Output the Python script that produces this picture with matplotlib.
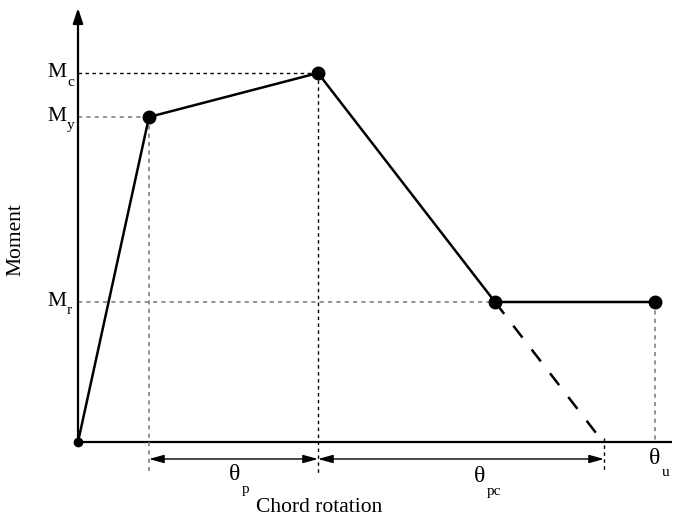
import matplotlib
matplotlib.use("Agg")
import matplotlib.pyplot as plt

plt.rcParams['font.family'] = ['Liberation Serif', 'DejaVu Serif']

# backbone points (chord rotation, moment), arbitrary units
theta = [0, 71, 240, 417, 577]
moment = [0, 325, 369, 140, 140]
theta_end = 525          # where the post-capping branch reaches zero
m_labels = ["c", "y", "r"]
m_values = [369, 325, 140]
x_max, y_max = 594, 434

fig = plt.figure(figsize=(6.73, 5.22), dpi=100)
ax = fig.add_axes([78/673, 80/522, 594/673, 434/522])
ax.set_xlim(0, x_max)
ax.set_ylim(0, y_max)
ax.axis("off")

# axes
ax.plot([0, x_max], [0, 0], color="black", lw=1.6, clip_on=False, solid_capstyle="butt")
ax.annotate("", xy=(0, y_max), xytext=(0, 0),
            arrowprops=dict(arrowstyle="-|>,head_length=0.9,head_width=0.3", color="black", lw=1.6,
                            shrinkA=0, shrinkB=0), annotation_clip=False)

# guide lines
dot = dict(color="gray", lw=1.2, dashes=(2.5, 2.5), clip_on=False)
ax.plot([0, theta[2]], [moment[2], moment[2]], color="black", lw=1.0, dashes=(2.5, 2.5))
ax.plot([0, theta[1]], [moment[1], moment[1]], **dot)
ax.plot([0, theta[3]], [moment[3], moment[3]], **dot)
ax.plot([theta[1], theta[1]], [moment[1], -29], **dot)
ax.plot([theta[2], theta[2]], [moment[2], -31], color="black", lw=1.0, dashes=(2.5, 2.5), clip_on=False)
ax.plot([theta_end + 1, theta_end + 1], [4, -28], color="black", lw=1.0, dashes=(2.5, 2.5), clip_on=False)
ax.plot([theta[4], theta[4]], [moment[4], 0], **dot)

# backbone
ax.plot(theta, moment, color="black", lw=1.8, zorder=3, clip_on=False)
ax.plot(theta[1:], moment[1:], "o", color="black", ms=9, zorder=4)
ax.plot([0], [0], "o", color="black", ms=6, zorder=4, clip_on=False)
ax.plot([theta[3], theta_end], [moment[3], 0], color="black", lw=1.8, dashes=(6, 6), zorder=3)

# dimension arrows
y_arr = -17
arr = dict(arrowstyle="<|-|>,head_length=0.9,head_width=0.25", color="black", lw=1.0,
           shrinkA=0, shrinkB=0)
ax.annotate("", xy=(theta[1], y_arr), xytext=(theta[2], y_arr), arrowprops=arr, annotation_clip=False)
ax.annotate("", xy=(theta[2], y_arr), xytext=(theta_end + 1, y_arr), arrowprops=arr, annotation_clip=False)

# theta labels
def sub_label(x, y, main, sub):
    ax.annotate(main, xy=(x, y), fontsize=17, ha="right", va="baseline", annotation_clip=False)
    ax.annotate(sub, xy=(x, y), xytext=(1, -9), textcoords="offset points",
                fontsize=11, ha="left", va="baseline", annotation_clip=False)

sub_label(162, -38, "θ", "p")
sub_label(407, -40, "θ", "pc")
sub_label(582, -22, "θ", "u")

# moment labels
for lab, val in zip(m_labels, m_values):
    ax.annotate("M", xy=(0, val), xytext=(-8, -3), textcoords="offset points",
                fontsize=15.5, ha="right", va="baseline", annotation_clip=False)
    ax.annotate(lab, xy=(0, val), xytext=(-8, -9), textcoords="offset points",
                fontsize=11, ha="left", va="baseline", annotation_clip=False)

fig.text(319/673, 1 - 508/522, "Chord rotation", fontsize=15.5, ha="center", va="center")
fig.text(16/673, 1 - 240/522, "Moment", fontsize=15.5, ha="center", va="center", rotation=90)

fig.savefig("out.png", dpi=100)
